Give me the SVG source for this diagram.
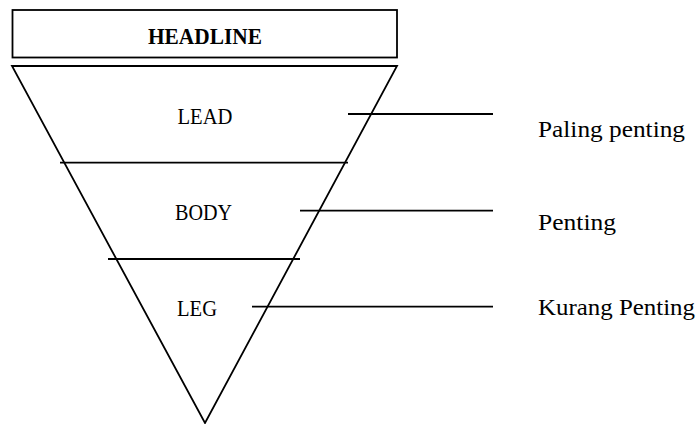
<svg xmlns="http://www.w3.org/2000/svg" width="699" height="424" viewBox="0 0 699 424">
<style>
.ln{stroke:#000;stroke-width:1.8;fill:none}
.t{font-family:"Liberation Serif","Times New Roman",serif;font-size:23px;fill:#000}
.c{text-anchor:middle}
</style>
<rect width="699" height="424" fill="#fff"/>
<g id="headline">
<rect class="ln" x="12.5" y="10" width="384.5" height="47.5" stroke-width="2"/>
<text class="t c" x="205" y="44" font-weight="bold" textLength="114" lengthAdjust="spacingAndGlyphs">HEADLINE</text>
</g>
<g id="pyramid">
<polygon class="ln" points="12,66 397,66 205,423"/>
<line class="ln" x1="60" y1="162.7" x2="348" y2="162.7"/>
<line class="ln" x1="108" y1="259" x2="300" y2="259" stroke-width="2"/>
</g>
<g id="lead"><text class="t c" x="205" y="124" textLength="55" lengthAdjust="spacingAndGlyphs">LEAD</text></g>
<g id="body"><text class="t c" x="203.5" y="220" textLength="57" lengthAdjust="spacingAndGlyphs">BODY</text></g>
<g id="leg"><text class="t c" x="197" y="316" textLength="40" lengthAdjust="spacingAndGlyphs">LEG</text></g>
<g id="connectors">
<line class="ln" x1="348" y1="114" x2="493" y2="114"/>
<line class="ln" x1="300" y1="210.7" x2="493" y2="210.7"/>
<line class="ln" x1="252" y1="306.7" x2="493" y2="306.7"/>
</g>
<g id="label-paling"><text class="t" x="538" y="136.5" textLength="147" lengthAdjust="spacingAndGlyphs">Paling penting</text></g>
<g id="label-penting"><text class="t" x="538" y="230" textLength="78" lengthAdjust="spacingAndGlyphs">Penting</text></g>
<g id="label-kurang"><text class="t" x="538" y="315" textLength="157" lengthAdjust="spacingAndGlyphs">Kurang Penting</text></g>
</svg>
